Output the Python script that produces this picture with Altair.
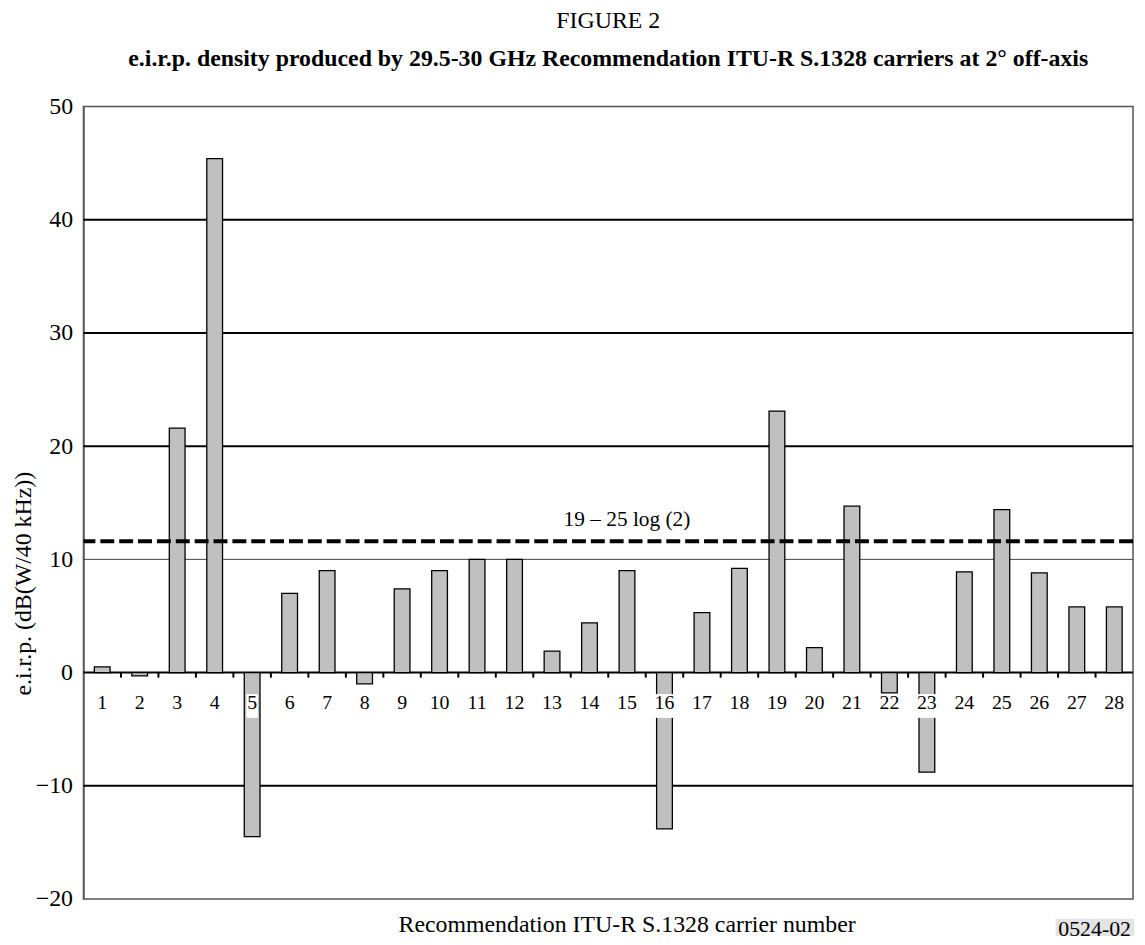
import altair as alt
import pandas as pd

# ---- data ----
carriers = list(range(1, 29))
eirp = [0.5, -0.3, 21.6, 45.4, -14.5, 7.0, 9.0, -1.0, 7.4, 9.0,
        10.0, 10.0, 1.9, 4.4, 9.0, -13.8, 5.3, 9.2, 23.1, 2.2,
        14.7, -1.8, -8.8, 8.9, 14.4, 8.8, 5.8, 5.8]
threshold = 11.6
threshold_label = "19 – 25 log (2)"
threshold_carrier = 15
y_ticks = [-20, -10, 0, 10, 20, 30, 40, 50]
y_domain = [-20, 50]
fig_title = "FIGURE 2"
fig_subtitle = "e.i.r.p. density produced by 29.5-30 GHz Recommendation ITU-R S.1328 carriers at 2° off-axis"
x_title = "Recommendation ITU-R S.1328 carrier number"
y_title = "e.i.r.p. (dB(W/40 kHz))"
figure_code = "0524-02"

df = pd.DataFrame({"carrier": carriers, "eirp": eirp})
df["label"] = df["carrier"].astype(str)
grid_df = pd.DataFrame({"v": y_ticks})
thr_df = pd.DataFrame({"carrier": [threshold_carrier], "v": [threshold], "t": [threshold_label]})
code_df = pd.DataFrame({"t": [figure_code]})

FONT = "Liberation Serif"
W, H = 1057, 798

x_scale = alt.Scale(paddingInner=0, paddingOuter=0)
y_scale = alt.Scale(domain=y_domain, nice=False)

x_axis = alt.Axis(labels=False, ticks=False, domain=False, grid=False,
                  title=x_title, titleFont=FONT, titleFontSize=24,
                  titleFontWeight="normal", titleColor="black",
                  titlePadding=14, titleX=547)
y_axis = alt.Axis(values=y_ticks, title=y_title, titleFont=FONT, titleFontSize=24,
                  titleFontWeight="normal", titleColor="black",
                  titleX=-48, titleY=480,
                  labelFont=FONT, labelFontSize=24, labelColor="black", labelPadding=11,
                  ticks=False, domainColor="#555", domainWidth=1.5, grid=False)

X = alt.X("carrier:O", scale=x_scale, axis=x_axis)
Yv = alt.Y("v:Q", scale=y_scale, axis=y_axis)

grid = alt.Chart(grid_df).transform_filter(
    "datum.v > -20 && datum.v < 50"
).mark_rule(color="black").encode(
    y=Yv,
    strokeWidth=alt.condition("datum.v == 10", alt.value(1), alt.value(2)),
    color=alt.condition("datum.v == 10", alt.value("#444"), alt.value("black")),
)

bars = alt.Chart(df).mark_bar(
    width=alt.RelativeBandSize(0.42), color="#c0c0c0", stroke="black", strokeWidth=1.3
).encode(
    x=X,
    y=alt.Y("eirp:Q", scale=y_scale, axis=y_axis),
    y2=alt.datum(0),
)

rule = alt.Chart(thr_df).mark_rule(color="black", strokeWidth=4, strokeDash=[14, 5]).encode(
    y=Yv
)

thr_text = alt.Chart(thr_df).mark_text(font=FONT, fontSize=21.5, color="black", dy=-21,
                                        baseline="middle").encode(
    x=alt.X("carrier:O", scale=x_scale, axis=x_axis),
    y=Yv,
    text="t:N"
)

boxes = alt.Chart(df).transform_calculate(
    w="length(datum.label) * 9.5 + 2"
).mark_bar(color="white").encode(
    x=alt.X("carrier:O", scale=x_scale, axis=x_axis),
    y=alt.datum(-1.9),
    y2=alt.datum(-4.0),
    size=alt.Size("w:Q", scale=None),
)

labels = alt.Chart(df).mark_text(font=FONT, fontSize=20, color="black", baseline="middle",
                                 dy=31).encode(
    x=alt.X("carrier:O", scale=x_scale, axis=x_axis), y=alt.datum(0), text="label:N"
)

ticks = alt.Chart(df).transform_filter("datum.carrier > 1").mark_rule(
    color="black", strokeWidth=2
).encode(
    x=alt.X("carrier:O", bandPosition=0, scale=x_scale, axis=x_axis),
    y=alt.datum(0),
    y2=alt.datum(-0.45),
)

code_box = alt.Chart(code_df).mark_rect(color="#e4e4e4").encode(
    x=alt.value(979), x2=alt.value(W + 1), y=alt.value(H + 20), y2=alt.value(H + 40)
)
code_text = alt.Chart(code_df).mark_text(font=FONT, fontSize=22, color="black", align="right",
                                         baseline="top").encode(
    x=alt.value(W - 2), y=alt.value(H + 20), text="t:N"
)

chart = alt.layer(grid, bars, rule, thr_text, boxes, labels, ticks, code_box, code_text).properties(
    width=W, height=H,
    autosize=alt.AutoSizeParams(type="none"),
    padding={"left": 76, "top": 96, "right": 4, "bottom": 34},
    title=alt.TitleParams(text=fig_title, subtitle=fig_subtitle, font=FONT, fontSize=24,
                          fontWeight="normal", color="black", subtitleFont=FONT,
                          subtitleFontSize=24, subtitleFontWeight="bold",
                          subtitleColor="black", subtitlePadding=14,
                          anchor="middle", frame="group", offset=24),
).configure(
    background="white", font=FONT,
    style={"guide-label": {"font": FONT, "fill": "black"},
           "guide-title": {"font": FONT, "fill": "black"}},
).configure_view(
    stroke="#555", strokeWidth=1.5
).configure_axis(
    labelFont=FONT, titleFont=FONT, labelColor="black", titleColor="black"
)

chart.save("out.html", embed_options={"renderer": "svg", "actions": False})
